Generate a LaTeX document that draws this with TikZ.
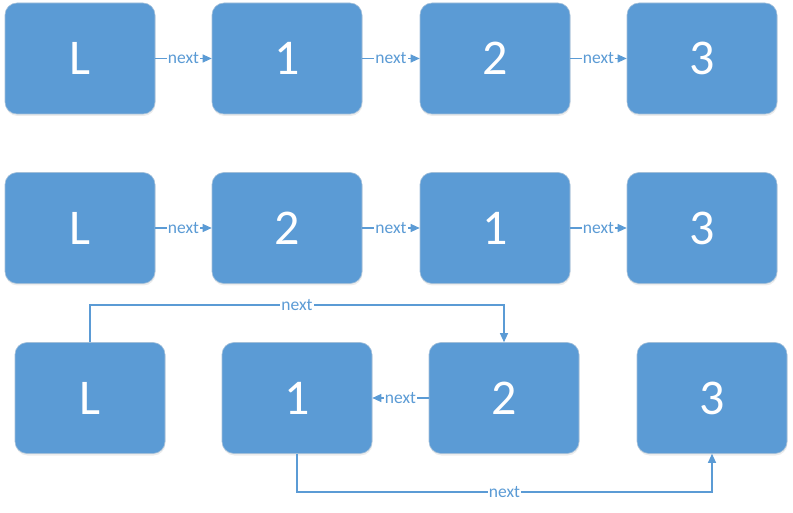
\documentclass[tikz,border=0pt]{standalone}
\usepackage{fontspec}
\setmainfont{Carlito}
\definecolor{boxblue}{HTML}{5B9BD5}
\tikzset{listnode/.style = {rectangle, rounded corners=12pt, fill=boxblue, draw=boxblue!75!gray!60, line width=0.6pt,
           minimum width=150pt, minimum height=111pt, inner sep=0pt, text=white, font=\fontsize{50}{50}\selectfont,
           drop shadow={opacity=0.15, shadow xshift=0.5pt, shadow yshift=-2pt}}}
\tikzset{link/.style = {draw=boxblue, line width=1.1pt, -{Triangle[length=9pt,width=8pt]}}}
\tikzset{nextlabel/.style = {fill=white, text=boxblue, font=\fontsize{17.5}{17.5}\selectfont, inner sep=1pt}}
\usetikzlibrary{arrows.meta,shadows}

\begin{document}
\begin{tikzpicture}[x=1pt, y=-1pt]
\useasboundingbox (0,0) rectangle (793,513);
\node[listnode] (r1L) at (80,58.5) {L};
\node[listnode] (r1a) at (287,58.5) {1};
\node[listnode] (r1b) at (495,58.5) {2};
\node[listnode] (r1c) at (702,58.5) {3};
\draw[link] (r1L) -- node[nextlabel] {next} (r1a);
\draw[link] (r1a) -- node[nextlabel] {next} (r1b);
\draw[link] (r1b) -- node[nextlabel] {next} (r1c);

\node[listnode] (r2L) at (80,228) {L};
\node[listnode] (r2a) at (287,228) {2};
\node[listnode] (r2b) at (495,228) {1};
\node[listnode] (r2c) at (702,228) {3};
\draw[link] (r2L) -- node[nextlabel] {next} (r2a);
\draw[link] (r2a) -- node[nextlabel] {next} (r2b);
\draw[link] (r2b) -- node[nextlabel] {next} (r2c);

\node[listnode] (r3L) at (90,398) {L};
\node[listnode] (r3a) at (297,398) {1};
\node[listnode] (r3b) at (504,398) {2};
\node[listnode] (r3c) at (712,398) {3};
\coordinate (topbend) at (0,305);
\coordinate (botbend) at (0,492);
\draw[link] (r3L.north) -- (r3L.north |- topbend) -| node[nextlabel, pos=0.25] {next} (r3b.north);
\draw[link] (r3b) -- node[nextlabel] {next} (r3a);
\draw[link] (r3a.south) -- (r3a.south |- botbend) -| node[nextlabel, pos=0.25] {next} (r3c.south);
\end{tikzpicture}
\end{document}
